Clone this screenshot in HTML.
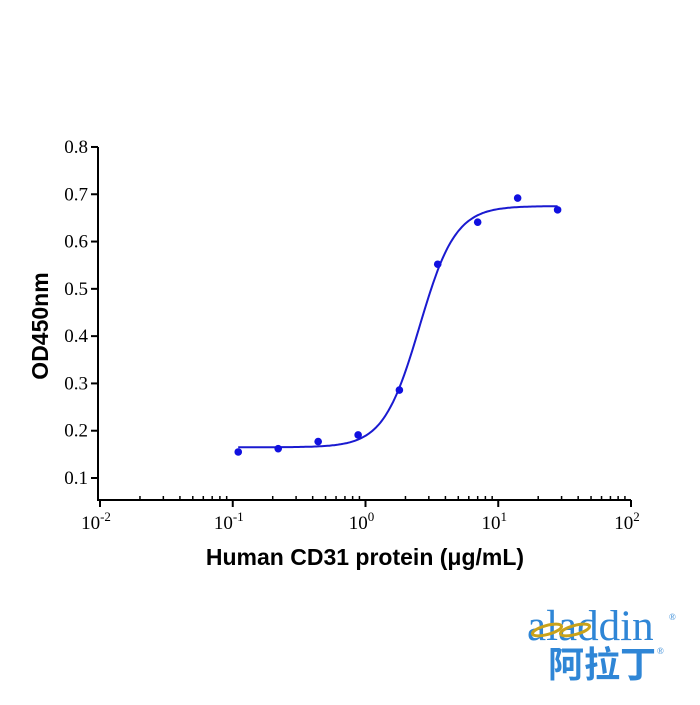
<!DOCTYPE html>
<html><head><meta charset="utf-8"><style>
body{margin:0;background:#fff;width:700px;height:700px;overflow:hidden}
svg text{font-family:"Liberation Serif",serif}
</style></head><body>
<svg width="700" height="700" id="c">
<g id="axes"></g><g id="marks"></g>
<text x="0" y="0" transform="translate(48,326) rotate(-90)" text-anchor="middle" font-weight="bold" font-size="23" style="font-family:'Liberation Sans',sans-serif">OD450nm</text>
<text x="365" y="565" text-anchor="middle" font-weight="bold" font-size="23" style="font-family:'Liberation Sans',sans-serif">Human CD31 protein (μg/mL)</text>
<g>
<text x="527" y="640" font-size="43" fill="#2f86d6" style="font-family:'Liberation Serif',serif">aladdin</text>
<ellipse cx="547" cy="630" rx="15" ry="4.5" fill="none" stroke="#c9a21a" stroke-width="3" transform="rotate(-15 547 630)"/>
<ellipse cx="575" cy="630" rx="15" ry="4.5" fill="none" stroke="#c9a21a" stroke-width="3" transform="rotate(-15 575 630)"/>
<text x="669" y="620" font-size="9" fill="#2f86d6">®</text>
<text x="548" y="677" font-size="36" font-weight="bold" fill="#2f86d6" style="font-family:'Noto Sans CJK SC',sans-serif">阿拉丁</text>
<text x="657" y="654" font-size="9" fill="#2f86d6">®</text>
</g>
</svg>
<script>
const xValues=[0.11,0.22,0.44,0.88,1.8,3.5,7,14,28];
const yValues=[0.155,0.162,0.177,0.191,0.286,0.552,0.641,0.692,0.667];
const yTicks=[0.1,0.2,0.3,0.4,0.5,0.6,0.7,0.8];
const xTickExps=[-2,-1,0,1,2];
const fitParams=[0.165,0.675,2.55,3.2]; // bottom, top, EC50, hill
const NS='http://www.w3.org/2000/svg';
const X0=100,X1=631,YB=500;
function xs(v){return X0+(Math.log10(v)+2)/4*(X1-X0);}
function ys(v){return 478-(v-0.1)/0.1*47.29;}
function mk(t,a,p){const e=document.createElementNS(NS,t);for(const k in a)e.setAttribute(k,a[k]);(p||document.getElementById('axes')).appendChild(e);return e;}
let l=mk('line',{x1:98,y1:ys(0.8),x2:98,y2:YB,stroke:'#000','stroke-width':2});


l=mk('line',{x1:97,y1:YB,x2:X1,y2:YB,stroke:'#000','stroke-width':2});


yTicks.forEach(t=>{const y=ys(t);
mk('line',{x1:91,y1:y,x2:98,y2:y,stroke:'#000','stroke-width':2});
const tx=mk('text',{x:88,y:y+6,'text-anchor':'end','font-size':19});
tx.textContent=t.toFixed(1);

});
xTickExps.forEach((e,i)=>{const x=xs(Math.pow(10,e));
mk('line',{x1:x,y1:YB,x2:x,y2:YB+7,stroke:'#000','stroke-width':2});
if(i<xTickExps.length-1)for(let m=2;m<10;m++){const xm=xs(m*Math.pow(10,e));mk('line',{x1:xm,y1:YB-4,x2:xm,y2:YB,stroke:'#000','stroke-width':1.5});}
const tx=mk('text',{x:x-4,y:YB+29,'text-anchor':'middle','font-size':19});
tx.innerHTML='10<tspan dy="-8" font-size="13">'+e+'</tspan>';

});
const mg=document.getElementById('marks');
const [b,tp,ec,h]=fitParams;let d='';
for(let i=0;i<=200;i++){const v=Math.pow(10,Math.log10(0.11)+i/200*(Math.log10(28)-Math.log10(0.11)));
const f=b+(tp-b)/(1+Math.pow(ec/v,h));d+=(i?'L':'M')+xs(v).toFixed(1)+','+ys(f).toFixed(1);}
const p=mk('path',{d:d,fill:'none',stroke:'#1a1ad0','stroke-width':2},mg);


xValues.forEach((v,i)=>{const c=mk('circle',{cx:xs(v),cy:ys(yValues[i]),r:3.8,fill:'#1010e0'},mg);

});
</script>
</body></html>
